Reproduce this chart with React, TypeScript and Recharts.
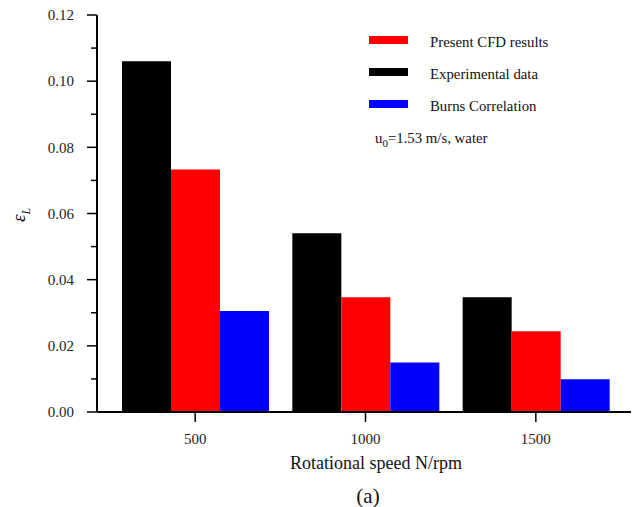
import React from "react";
import { BarChart, Bar, XAxis, YAxis } from "recharts";

const speeds = ["500", "1000", "1500"];
const experimental = [0.106, 0.054, 0.0347];
const cfd = [0.0733, 0.0347, 0.0244];
const burns = [0.0305, 0.015, 0.0099];
const yTicks = [0, 0.01, 0.02, 0.03, 0.04, 0.05, 0.06, 0.07, 0.08, 0.09, 0.1, 0.11, 0.12];

const series = [
  { key: "experimental", name: "Experimental data", color: "#000000" },
  { key: "cfd", name: "Present CFD results", color: "#ff0000" },
  { key: "burns", name: "Burns Correlation", color: "#0000ff" },
];
// legend lists CFD first, then experiment, then correlation
const legendOrder = ["cfd", "experimental", "burns"];

const data = speeds.map((s, i) => ({
  speed: s,
  experimental: experimental[i],
  cfd: cfd[i],
  burns: burns[i],
}));

const FONT = "'Liberation Serif', 'Times New Roman', serif";
const TICK_SIZE = 10;
const TICK_MARGIN = 13;

function YTick(props: any) {
  const { x, y, payload } = props;
  const axisX = x + TICK_SIZE + TICK_MARGIN;
  const major = Math.round(payload.value * 100) % 2 === 0;
  return (
    <g>
      <line x1={axisX - (major ? 10 : 6)} x2={axisX} y1={y} y2={y} stroke="#000" strokeWidth={1.5} />
      {major && (
        <text x={x} y={y} dy="0.35em" textAnchor="end" fontSize={15} fill="#222" fontFamily={FONT}>
          {payload.value.toFixed(2)}
        </text>
      )}
    </g>
  );
}

function LegendBox() {
  return (
    <div
      style={{
        position: "absolute",
        left: 369,
        top: 24,
        fontFamily: FONT,
        fontSize: 14.8,
        color: "#111",
      }}
    >
      {legendOrder.map((k) => {
        const s = series.find((x) => x.key === k)!;
        return (
          <div key={k} style={{ display: "flex", alignItems: "center", height: 32 }}>
            <div style={{ width: 39, height: 8, background: s.color, marginRight: 22 }} />
            <span style={{ position: "relative", top: 2 }}>{s.name}</span>
          </div>
        );
      })}
      <div style={{ marginLeft: 6, marginTop: 10 }}>
        u<sub style={{ fontSize: 11 }}>0</sub>=1.53 m/s, water
      </div>
    </div>
  );
}

export default function App() {
  return (
    <div style={{ position: "absolute", left: 0, top: 0, width: 635, height: 507, background: "#fff" }}>
      <BarChart
        width={635}
        height={507}
        data={data}
        margin={{ top: 15, right: 4, bottom: 55, left: 37 }}
        barCategoryGap={12}
        barGap={0}
      >
        <XAxis
          xAxisId="bottom"
          dataKey="speed"
          height={40}
          padding={{ left: 13, right: 10 }}
          tickSize={10}
          tickMargin={11}
          axisLine={{ stroke: "#000", strokeWidth: 2 }}
          tickLine={{ stroke: "#000", strokeWidth: 1.5 }}
          tick={{ fontSize: 15, fill: "#222", fontFamily: FONT }}
        />
        <XAxis
          xAxisId="top"
          dataKey="speed"
          orientation="top"
          height={0}
          tick={false}
          tickLine={false}
          axisLine={{ stroke: "#000", strokeWidth: 2 }}
        />
        <YAxis
          yAxisId="left"
          width={60}
          domain={[0, 0.12]}
          ticks={yTicks}
          interval={0}
          tickSize={TICK_SIZE}
          tickMargin={TICK_MARGIN}
          tickLine={false}
          tick={<YTick />}
          axisLine={{ stroke: "#000", strokeWidth: 2 }}
        />
        <YAxis
          yAxisId="right"
          orientation="right"
          width={0}
          domain={[0, 0.12]}
          tick={false}
          tickLine={false}
          axisLine={{ stroke: "#000", strokeWidth: 2 }}
        />
        {series.map((s) => (
          <Bar
            key={s.key}
            xAxisId="bottom"
            yAxisId="left"
            dataKey={s.key}
            name={s.name}
            fill={s.color}
            isAnimationActive={false}
          />
        ))}
      </BarChart>
      <LegendBox />
      <div
        style={{
          position: "absolute",
          left: 6,
          top: 202,
          width: 30,
          textAlign: "center",
          fontFamily: FONT,
          fontSize: 19,
          fontStyle: "italic",
          transform: "rotate(-90deg)",
        }}
      >
        ε<sub style={{ fontSize: 12 }}>L</sub>
      </div>
      <div
        style={{
          position: "absolute",
          left: 276,
          width: 200,
          top: 453,
          textAlign: "center",
          fontFamily: FONT,
          fontSize: 18,
          color: "#111",
        }}
      >
        Rotational speed N/rpm
      </div>
      <div
        style={{
          position: "absolute",
          left: 318,
          width: 100,
          top: 484,
          textAlign: "center",
          fontFamily: FONT,
          fontSize: 21,
          color: "#111",
        }}
      >
        (a)
      </div>
    </div>
  );
}
